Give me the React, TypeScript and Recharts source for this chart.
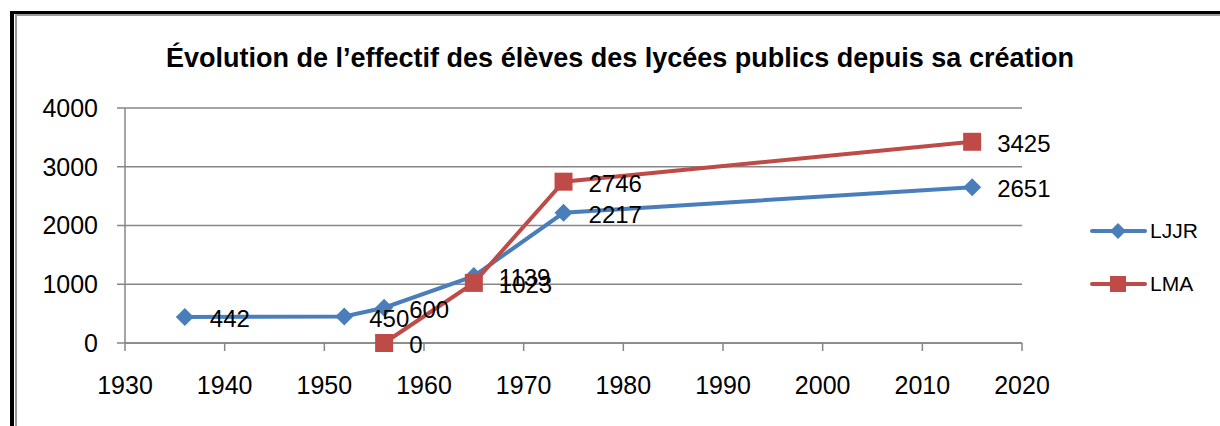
import { LineChart, Line, XAxis, YAxis, CartesianGrid, LabelList } from 'recharts';

const years = [1936, 1952, 1956, 1965, 1974, 2015];
const ljjr = [442, 450, 600, 1139, 2217, 2651];
const lma = [null, null, 0, 1023, 2746, 3425];
const xTicks = [1930, 1940, 1950, 1960, 1970, 1980, 1990, 2000, 2010, 2020];
const yTicks = [0, 1000, 2000, 3000, 4000];
const seriesNames = ['LJJR', 'LMA'];

const BLUE = '#4a7ebb';
const RED = '#be4b48';
const FONT = '"Liberation Sans", Arial, sans-serif';

const data = years.map((year, i) => ({ year, LJJR: ljjr[i], LMA: lma[i] }));

const Diamond = (props: any) => {
  const { cx, cy } = props;
  if (cx == null || cy == null || props.value == null) return null;
  const r = 9;
  return <polygon points={`${cx},${cy - r} ${cx + r},${cy} ${cx},${cy + r} ${cx - r},${cy}`} fill={BLUE} />;
};

const Square = (props: any) => {
  const { cx, cy } = props;
  if (cx == null || cy == null || props.value == null) return null;
  return <rect x={cx - 9} y={cy - 9} width={18} height={18} fill={RED} />;
};

const ValueLabel = (props: any) => {
  const { x, y, value } = props;
  if (value == null) return null;
  return (
    <text x={x + 25} y={y + 2} dy={8} fontSize={24} fontFamily={FONT} fill="#000">
      {value}
    </text>
  );
};

function LegendBox() {
  const colors = [BLUE, RED];
  return (
    <div style={{ position: 'absolute', left: 1090, top: 204, fontFamily: FONT, fontSize: 21 }}>
      {seriesNames.map((name, i) => (
        <div key={name} style={{ display: 'flex', alignItems: 'center', height: 53 }}>
          <svg width={58} height={20}>
            <line x1={2} y1={10} x2={55} y2={10} stroke={colors[i]} strokeWidth={4} strokeLinecap="round" />
            {i === 0 ? (
              <polygon points="28,2 36,10 28,18 20,10" fill={colors[i]} />
            ) : (
              <rect x={20} y={2} width={16} height={16} fill={colors[i]} />
            )}
          </svg>
          <span style={{ marginLeft: 2 }}>{name}</span>
        </div>
      ))}
    </div>
  );
}

export default function App() {
  return (
    <div style={{ position: 'absolute', left: 0, top: 0, width: 1220, height: 426, background: '#fff', overflow: 'hidden' }}>
      {/* frame */}
      <div style={{ position: 'absolute', left: 10, top: 11, width: 1210, height: 3, background: '#000' }} />
      <div style={{ position: 'absolute', left: 15, top: 14, width: 1205, height: 2, background: '#9a9a9a' }} />
      <div style={{ position: 'absolute', left: 10, top: 11, width: 4, height: 415, background: '#000' }} />
      <div style={{ position: 'absolute', left: 15, top: 14, width: 2, height: 412, background: '#9a9a9a' }} />
      <div
        style={{
          position: 'absolute',
          left: 0,
          width: 1240,
          top: 43,
          textAlign: 'center',
          fontFamily: FONT,
          fontWeight: 'bold',
          fontSize: 27,
          whiteSpace: 'nowrap',
        }}
      >
        Évolution de l’effectif des élèves des lycées publics depuis sa création
      </div>
      <div style={{ position: 'absolute', left: 0, top: 0 }}>
        <LineChart width={1220} height={426} data={data} margin={{ top: 108, right: 198, bottom: 43, left: 0 }}>
          <CartesianGrid vertical={false} stroke="#868686" strokeWidth={1.5} />
          <XAxis
            dataKey="year"
            type="number"
            domain={[1930, 2020]}
            ticks={xTicks}
            height={40}
            axisLine={{ stroke: '#868686', strokeWidth: 1.5 }}
            tickLine={{ stroke: '#868686', strokeWidth: 1.5 }}
            tickSize={8}
            tickMargin={25}
            tick={{ fill: '#000', fontSize: 25, fontFamily: FONT }}
          />
          <YAxis
            domain={[0, 4000]}
            ticks={yTicks}
            width={125}
            axisLine={{ stroke: '#868686', strokeWidth: 1.5 }}
            tickLine={{ stroke: '#868686', strokeWidth: 1.5 }}
            tickSize={8}
            tickMargin={19}
            tick={{ fill: '#000', fontSize: 25, fontFamily: FONT }}
          />
          <Line
            dataKey="LJJR"
            stroke={BLUE}
            strokeWidth={4}
            dot={<Diamond />}
            activeDot={false}
            isAnimationActive={false}
          >
            <LabelList dataKey="LJJR" content={<ValueLabel />} />
          </Line>
          <Line
            dataKey="LMA"
            stroke={RED}
            strokeWidth={4}
            dot={<Square />}
            activeDot={false}
            isAnimationActive={false}
          >
            <LabelList dataKey="LMA" content={<ValueLabel />} />
          </Line>
        </LineChart>
      </div>
      <LegendBox />
    </div>
  );
}
